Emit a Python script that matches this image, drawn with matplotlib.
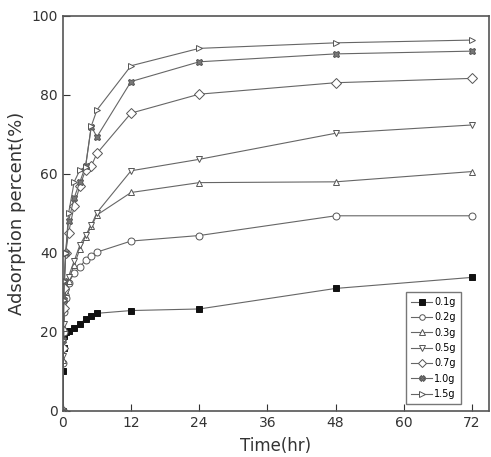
import matplotlib.pyplot as plt
import numpy as np

# time (hr) and adsorption percent (%) per dose
time_hr = [0, 0.083, 0.167, 0.25, 0.5, 1, 2, 3, 4, 5, 6, 12, 24, 48, 72]

ads_01 = [0, 10, 16, 19, 20, 20.2, 21, 22, 23.3, 24, 24.7, 25.4, 25.8, 31.0, 33.8]
ads_02 = [0, 12, 20, 25, 28.5, 32.5, 34.8, 36.5, 38.2, 39.2, 40.2, 43.0, 44.4, 49.4, 49.4]
ads_03 = [0, 13, 21, 26, 30, 33, 37, 41, 44, 46.7, 49.6, 55.3, 57.8, 58.0, 60.6]
ads_05 = [0, 14, 22, 27, 30, 34, 38, 42, 44.5, 47, 50.2, 60.8, 63.7, 70.3, 72.4]
ads_07 = [0, 16, 26, 31, 40, 45, 52, 57, 61, 62, 65.2, 75.4, 80.2, 83.1, 84.2]
ads_10 = [0, 18, 28, 33, 40, 48, 54, 58, 62, 72, 69.4, 83.4, 88.4, 90.4, 91.1]
ads_15 = [0, 18, 28, 33, 40, 50, 58, 61, 61.8, 72.1, 76.2, 87.4, 91.8, 93.2, 93.9]

labels = ['0.1g', '0.2g', '0.3g', '0.5g', '0.7g', '1.0g', '1.5g']
series = [ads_01, ads_02, ads_03, ads_05, ads_07, ads_10, ads_15]
markers = ['s', 'o', '^', 'v', 'D', 'X', '>']
fills = ['#111111', 'white', 'white', 'white', 'white', '#777777', 'white']

fig = plt.figure(figsize=(4.91, 4.57), dpi=100)
ax = fig.add_axes([0.128, 0.101, 0.868, 0.864])

line_col = '#666666'
for y, lab, m, fc in zip(series, labels, markers, fills):
    ec = '#111111' if lab == '0.1g' else '#555555'
    ax.plot(time_hr, y, color=line_col, lw=0.8, marker=m, ms=5,
            mfc=fc, mec=ec, mew=0.7, label=lab)

ax.set_xlim(0, 75)
ax.set_ylim(0, 100)
ax.set_xticks([0, 12, 24, 36, 48, 60, 72])
ax.set_yticks([0, 20, 40, 60, 80, 100])
ax.tick_params(direction='in', length=5, labelsize=10, colors='#333333',
               top=False, right=False)
for s in ax.spines.values():
    s.set_color('#555555')
    s.set_linewidth(1.2)

ax.set_xlabel('Time(hr)', fontsize=12, color='#333333', labelpad=5)
ax.set_ylabel('Adsorption percent(%)', fontsize=13, color='#333333')

leg = ax.legend(loc='lower right', fontsize=7, handlelength=2.2,
                labelspacing=0.55, borderpad=0.5, fancybox=False,
                edgecolor='#555555', handletextpad=0.2, markerscale=0.8,
                bbox_to_anchor=(0.945, 0.005))

fig.savefig('out.png', dpi=100)
